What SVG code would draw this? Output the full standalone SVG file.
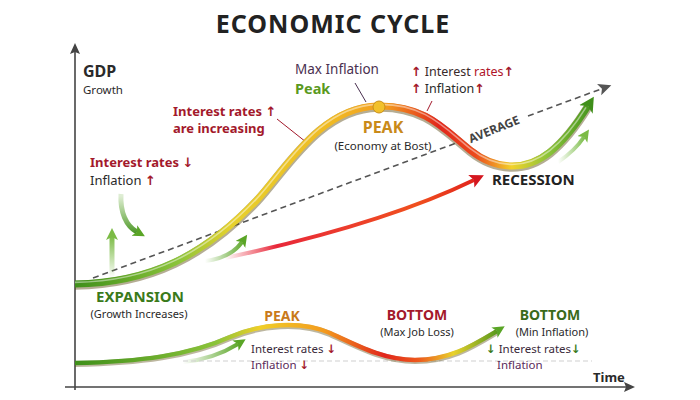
<svg xmlns="http://www.w3.org/2000/svg" width="700" height="400" viewBox="0 0 700 400">
<defs>
<style>
text{font-family:"Noto Sans","Open Sans","DejaVu Sans",sans-serif;}
.b{font-weight:bold;}
.dark{fill:#2a2a2a;}
.red{fill:#a3192b;}
.lead{stroke:#a3192b;stroke-width:1;fill:none;}
.leadp{stroke:#4a3050;stroke-width:1;fill:none;}
.axis{stroke:#444;stroke-width:1.6;fill:none;}
</style>
<marker id="mAxis" markerUnits="userSpaceOnUse" markerWidth="12" markerHeight="12" refX="2" refY="5" orient="auto"><path d="M0,0 L11,5 L0,10 L2,5 z" fill="#444"/></marker>
<marker id="mGray" markerUnits="userSpaceOnUse" markerWidth="14" markerHeight="14" refX="2" refY="6" orient="auto"><path d="M0,0 L13,6 L0,12 L3,6 z" fill="#555"/></marker>
<marker id="mGreen" markerUnits="userSpaceOnUse" markerWidth="18" markerHeight="18" refX="4" refY="8" orient="auto"><path d="M0,0 L15,8 L0,16 L4,8 z" fill="#3f8f1a"/></marker>
<marker id="mGreenS" markerUnits="userSpaceOnUse" markerWidth="14" markerHeight="14" refX="3" refY="6" orient="auto"><path d="M0,0 L12,6 L0,12 L3,6 z" fill="#5aa526"/></marker>
<marker id="mLight" markerUnits="userSpaceOnUse" markerWidth="14" markerHeight="14" refX="3" refY="6" orient="auto"><path d="M0,0 L12,6 L0,12 L3,6 z" fill="#7bbb45"/></marker>
<marker id="mRed" markerUnits="userSpaceOnUse" markerWidth="16" markerHeight="16" refX="3" refY="7" orient="auto"><path d="M0,0 L14,7 L0,14 L3,7 z" fill="#d4161f"/></marker>
<linearGradient id="gMain" gradientUnits="userSpaceOnUse" x1="75" y1="0" x2="595" y2="0">
<stop offset="0" stop-color="#3f8f1a"/>
<stop offset="0.2" stop-color="#8cc43a"/>
<stop offset="0.3" stop-color="#e6d12c"/>
<stop offset="0.5" stop-color="#f0b823"/>
<stop offset="0.6" stop-color="#f39a1e"/>
<stop offset="0.7" stop-color="#e1261c"/>
<stop offset="0.77" stop-color="#ec4a1c"/>
<stop offset="0.84" stop-color="#f2d22a"/>
<stop offset="0.91" stop-color="#8cc43a"/>
<stop offset="1" stop-color="#3f8f1a"/>
</linearGradient>
<linearGradient id="gBot" gradientUnits="userSpaceOnUse" x1="75" y1="0" x2="505" y2="0">
<stop offset="0" stop-color="#3f8f1a"/>
<stop offset="0.33" stop-color="#8cc43a"/>
<stop offset="0.43" stop-color="#f0cf28"/>
<stop offset="0.58" stop-color="#f39a1e"/>
<stop offset="0.72" stop-color="#e1261c"/>
<stop offset="0.8" stop-color="#ee5a1c"/>
<stop offset="0.88" stop-color="#e8d12c"/>
<stop offset="1" stop-color="#3f8f1a"/>
</linearGradient>
<linearGradient id="gRed" gradientUnits="userSpaceOnUse" x1="225" y1="0" x2="480" y2="0">
<stop offset="0" stop-color="#e8283a" stop-opacity="0"/>
<stop offset="0.2" stop-color="#e8283a"/>
<stop offset="0.75" stop-color="#f0501e"/>
<stop offset="1" stop-color="#e0201c"/>
</linearGradient>
<linearGradient id="gFadeG1" gradientUnits="userSpaceOnUse" x1="205" y1="0" x2="245" y2="0">
<stop offset="0" stop-color="#5aa526" stop-opacity="0"/><stop offset="1" stop-color="#5aa526"/>
</linearGradient>
<linearGradient id="gFadeG2" gradientUnits="userSpaceOnUse" x1="558" y1="0" x2="588" y2="0">
<stop offset="0" stop-color="#7bbb45" stop-opacity="0"/><stop offset="1" stop-color="#6ab432"/>
</linearGradient>
<linearGradient id="gFadeG3" gradientUnits="userSpaceOnUse" x1="183" y1="0" x2="240" y2="0">
<stop offset="0" stop-color="#5aa526" stop-opacity="0"/><stop offset="1" stop-color="#5aa526"/>
</linearGradient>
<linearGradient id="gCurl" gradientUnits="userSpaceOnUse" x1="0" y1="196" x2="0" y2="236">
<stop offset="0" stop-color="#5aa526" stop-opacity="0.2"/><stop offset="1" stop-color="#3f8f1a"/>
</linearGradient>
<linearGradient id="gUp" gradientUnits="userSpaceOnUse" x1="0" y1="278" x2="0" y2="236">
<stop offset="0" stop-color="#7bbb45" stop-opacity="0"/><stop offset="1" stop-color="#7bbb45"/>
</linearGradient>
</defs>
<rect width="700" height="400" fill="#ffffff"/>

<g id="title"><text x="333" y="33" text-anchor="middle" class="b" font-size="25" letter-spacing="1" fill="#222">ECONOMIC CYCLE</text></g>

<g id="axes">
<line x1="75" y1="390" x2="75" y2="52" class="axis" marker-end="url(#mAxis)"/>
<line x1="65" y1="387" x2="626" y2="387" class="axis" marker-end="url(#mAxis)"/>
<text x="83" y="77" class="b dark" font-size="16">GDP</text>
<text x="83" y="94.2" class="dark" font-size="11.5">Growth</text>
<text x="593" y="382" class="b dark" font-size="13">Time</text>
</g>

<g id="connectors">
<line x1="93" y1="278" x2="459" y2="142" stroke="#555" stroke-width="1.6" stroke-dasharray="6 4"/>
<line x1="528" y1="116" x2="601" y2="89" stroke="#555" stroke-width="1.6" stroke-dasharray="6 4" marker-end="url(#mGray)"/>
<path d="M225,258 C300,242 400,216 474,180" fill="none" stroke="url(#gRed)" stroke-width="4" marker-end="url(#mRed)"/>
<path d="M205,261 C222,259 235,252 242,242" fill="none" stroke="url(#gFadeG1)" stroke-width="4" marker-end="url(#mGreenS)"/>
<path d="M558,162 C570,154 578,146 584,137" fill="none" stroke="url(#gFadeG2)" stroke-width="4" marker-end="url(#mLight)"/>
<path d="M121,194 C120,212 126,226 137,232" fill="none" stroke="url(#gCurl)" stroke-width="5" marker-end="url(#mGreenS)"/>
<line x1="112" y1="278" x2="112" y2="237" stroke="url(#gUp)" stroke-width="5" marker-end="url(#mLight)"/>
<path d="M183,362 C205,360 225,352 238,344" fill="none" stroke="url(#gFadeG3)" stroke-width="4" marker-end="url(#mGreenS)"/>
<line x1="277" y1="119" x2="306" y2="142" class="lead"/>
<line x1="355" y1="83" x2="366" y2="102" class="leadp"/>
<line x1="432" y1="101" x2="427" y2="111" class="lead"/>
<line x1="183" y1="361" x2="592" y2="361" stroke="#cfcfcf" stroke-width="1" stroke-dasharray="5 3"/>
<path d="M75,284 C150,283 205,255 257,200 C285,170 320,107 378,106 C425,105 445,130 470,150 C495,170 525,172 550,152 C565,140 578,122 588,106" fill="none" stroke="#5b4a12" stroke-opacity="0.45" stroke-width="9" transform="translate(0,1.2)"/>
<path d="M75,284 C150,283 205,255 257,200 C285,170 320,107 378,106 C425,105 445,130 470,150 C495,170 525,172 550,152 C565,140 578,122 588,106" fill="none" stroke="url(#gMain)" stroke-width="7" marker-end="url(#mGreen)"/>
<path d="M75,284 C150,283 205,255 257,200 C285,170 320,107 378,106 C425,105 445,130 470,150 C495,170 525,172 550,152 C565,140 578,122 586,109" fill="none" stroke="#fff" stroke-opacity="0.45" stroke-width="1.6" transform="translate(0,-1.6)"/>
<path d="M75,363 C140,362 190,355 230,337 C260,324 300,320 330,333 C360,347 385,360 415,360 C450,360 472,346 497,331" fill="none" stroke="#5b4a12" stroke-opacity="0.4" stroke-width="6" transform="translate(0,1)"/>
<path d="M75,363 C140,362 190,355 230,337 C260,324 300,320 330,333 C360,347 385,360 415,360 C450,360 472,346 497,331" fill="none" stroke="url(#gBot)" stroke-width="4.5" marker-end="url(#mGreenS)"/>
<text transform="translate(494,129) rotate(-22)" y="4.5" text-anchor="middle" class="b" font-size="12" fill="#444">AVERAGE</text>
</g>

<g id="peak-dot"><circle cx="379" cy="107" r="6" fill="#f2c02a" stroke="#c9901a" stroke-width="1"/></g>

<g id="max-inflation">
<text x="295" y="74.3" font-size="13.5" fill="#4a3050">Max Inflation</text>
<text x="295" y="94" class="b" font-size="14.5" fill="#5a9a1e">Peak</text>
</g>

<g id="top-right-note">
<text x="411" y="75.8" font-size="12.5"><tspan class="red b">↑</tspan><tspan fill="#3a2a2a"> Interest </tspan><tspan fill="#b0142a">rates</tspan><tspan class="red b">↑</tspan></text>
<text x="411" y="93" font-size="12.5"><tspan class="red b">↑</tspan><tspan fill="#2a2a2a"> Inflation</tspan><tspan class="red b">↑</tspan></text>
</g>

<g id="peak-node">
<text x="383" y="133" text-anchor="middle" class="b" font-size="16" fill="#c98a1a">PEAK</text>
<text x="383" y="150.1" text-anchor="middle" font-size="11.5" fill="#2a2a2a">(Economy at Bost)</text>
</g>

<g id="rates-increasing">
<text x="173" y="115.5" class="b red" font-size="13">Interest rates ↑</text>
<text x="173" y="133.3" class="b red" font-size="13">are increasing</text>
</g>

<g id="left-note">
<text x="90" y="167" class="b red" font-size="13">Interest rates ↓</text>
<text x="90" y="185" font-size="13" fill="#2a2a2a">Inflation <tspan class="red b">↑</tspan></text>
</g>

<g id="recession"><text x="492" y="185" class="b" font-size="15" fill="#222">RECESSION</text></g>

<g id="expansion">
<text x="140" y="302" text-anchor="middle" class="b" font-size="15" fill="#3a7a1a">EXPANSION</text>
<text x="139" y="318.3" text-anchor="middle" font-size="11" fill="#2a2a2a">(Growth Increases)</text>
</g>

<g id="bottom-peak">
<text x="282" y="321" text-anchor="middle" class="b" font-size="14" fill="#c97a1a">PEAK</text>
<text x="251" y="353" font-size="11.5" fill="#3a2a3a">Interest rates <tspan class="red b">↓</tspan></text>
<text x="251" y="368.8" font-size="11.5" fill="#5a2a5a">Inflation <tspan class="red b">↓</tspan></text>
</g>

<g id="bottom-job">
<text x="417" y="319.5" text-anchor="middle" class="b red" font-size="14">BOTTOM</text>
<text x="417" y="335.5" text-anchor="middle" font-size="11" fill="#2a2a2a">(Max Job Loss)</text>
</g>

<g id="bottom-inflation">
<text x="550" y="319.5" text-anchor="middle" class="b" font-size="14" fill="#3a6a1a">BOTTOM</text>
<text x="552" y="335.5" text-anchor="middle" font-size="11" fill="#2a2a2a">(Min Inflation)</text>
<text x="486" y="353" font-size="11.5"><tspan fill="#3a7a1a" class="b">↓</tspan><tspan fill="#3a2a3a"> Interest rates</tspan><tspan fill="#3a7a1a" class="b">↓</tspan></text>
<text x="497" y="368.8" font-size="11.5" fill="#5a2a5a">Inflation</text>
</g>
</svg>
